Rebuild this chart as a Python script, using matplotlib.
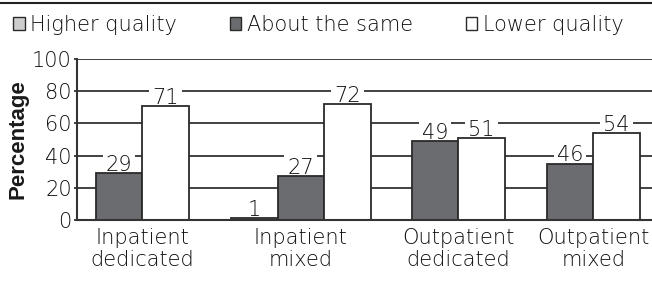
import matplotlib
matplotlib.use("Agg")
import matplotlib.pyplot as plt
from matplotlib.patches import Patch
from matplotlib.lines import Line2D

# ---- data ----
categories = ["Inpatient\ndedicated", "Inpatient\nmixed", "Outpatient\ndedicated", "Outpatient\nmixed"]
series_names = ["Higher quality", "About the same", "Lower quality"]
higher_quality = [None, 1, None, None]          # None = no bar shown
about_same = [29, 27, 49, 35]                   # bar heights as drawn
about_same_labels = ["29", "27", "49", "46"]    # printed values
lower_quality = [71, 72, 51, 54]
lower_quality_labels = ["71", "72", "51", "54"]
yticks = [0, 20, 40, 60, 80, 100]

# ---- layout / style ----
W, H = 652, 282
ax_left_px, ax_right_px = 77.3, 651.5
ax_bottom_px, ax_top_px = 219.7, 59.3
group_left = [18.4, 153.7, 334.4, 469.4]   # px from axis left
bar_w = 46.5
colors = ["#cdcdcd", "#6b6c70", "#ffffff"]
edge = "#2a2a2a"
txt = "#0e0e0e"
fs = 15
fw = 250

plt.rcParams["font.family"] = ["DejaVu Sans"]
plt.rcParams["font.weight"] = fw

fig = plt.figure(figsize=(W / 100, H / 100), dpi=100)
ax = fig.add_axes([ax_left_px / W, (H - ax_bottom_px) / H,
                   (ax_right_px - ax_left_px) / W, (ax_bottom_px - ax_top_px) / H])

series_vals = [higher_quality, about_same, lower_quality]
series_labels = [[None if v is None else str(v) for v in higher_quality],
                 about_same_labels, lower_quality_labels]

centers = []
for gi in range(len(categories)):
    x = group_left[gi]
    start = x
    for si in range(3):
        v = series_vals[si][gi]
        if v is None:
            continue
        xc = x + bar_w / 2
        ax.bar(xc, v, width=bar_w, color=colors[si], edgecolor=edge,
               linewidth=1.3, zorder=2)
        ax.annotate(series_labels[si][gi], (xc, v), xytext=(0, 1.5),
                    textcoords="offset points", ha="center", va="baseline",
                    fontsize=fs, color=txt, zorder=1, fontweight=fw,
                    bbox=dict(boxstyle="square,pad=0.15", fc="white", ec="none"))
        x += bar_w
    centers.append((start + x) / 2)

ax.set_xlim(0, ax_right_px - ax_left_px)
ax.set_ylim(0, 100)
ax.set_yticks(yticks)
ax.set_yticklabels([str(t) for t in yticks], fontweight=fw)
ax.set_xticks(centers)
ax.set_xticklabels(categories, linespacing=1.15, fontweight=fw)
ax.tick_params(axis="x", length=0, pad=5.8, labelsize=fs, labelcolor=txt)
ax.tick_params(axis="y", length=2.5, width=1.3, color="#333333", pad=1.5,
               labelsize=fs, labelcolor=txt)

ax.set_axisbelow(True)
ax.yaxis.grid(True, color="#333333", linewidth=1.3)
for s in ["top", "right"]:
    ax.spines[s].set_visible(False)
for s in ["left", "bottom"]:
    ax.spines[s].set_color("#333333")
    ax.spines[s].set_linewidth(1.5)
    ax.spines[s].set_zorder(3)

ax.set_ylabel("Percentage", fontsize=16, fontweight="bold",
              family=["Liberation Sans", "DejaVu Sans"], color="#1a1a1a", va="center")
ax.yaxis.set_label_coords((18.5 - ax_left_px) / (ax_right_px - ax_left_px), 0.5)

handles = [Patch(facecolor=c, edgecolor=edge, linewidth=1.0) for c in colors]
leg = fig.legend(handles, series_names, loc="center left",
                 bbox_to_anchor=(13.3 / W, 1 - 25 / H), ncol=3, frameon=False,
                 fontsize=fs, handlelength=0.55, handleheight=0.55,
                 handletextpad=0.25, columnspacing=2.55, borderpad=0,
                 borderaxespad=0, labelcolor=txt)
for t in leg.get_texts():
    t.set_fontweight(fw)

fig.add_artist(Line2D([0, 1], [1 - 2.7 / H, 1 - 2.7 / H],
                      transform=fig.transFigure, color="#222222", linewidth=1.5))

fig.savefig("out.png", dpi=100)
